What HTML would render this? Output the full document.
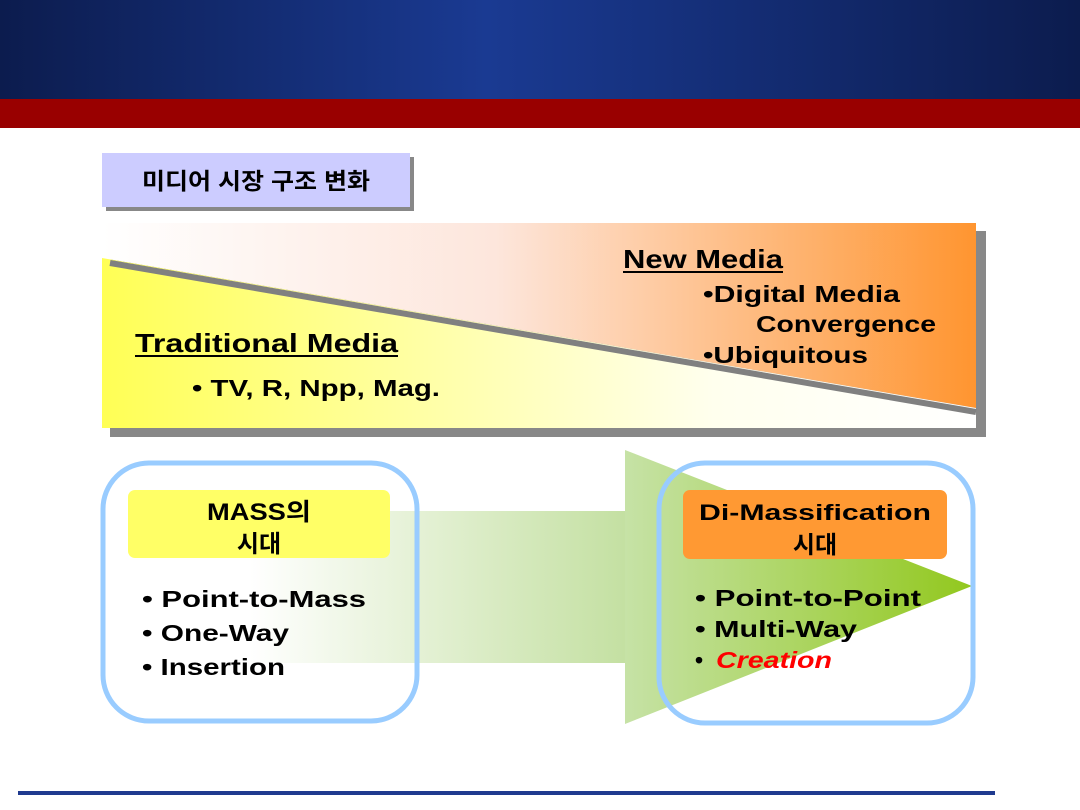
<!DOCTYPE html>
<html><head><meta charset="utf-8"><style>html,body{margin:0;padding:0;background:#fff}svg{display:block}</style></head><body>
<svg width="1080" height="810" viewBox="0 0 1080 810" xmlns="http://www.w3.org/2000/svg" font-family="'Liberation Sans','Noto Sans CJK KR',sans-serif" font-weight="bold">
<defs>
<linearGradient id="hd" x1="0" x2="1" y1="0" y2="0"><stop offset="0" stop-color="#0c1c4e"/><stop offset="0.45" stop-color="#1a3a92"/><stop offset="1" stop-color="#0c1c4e"/></linearGradient>
<linearGradient id="up" x1="0" x2="1"><stop offset="0" stop-color="#ffffff"/><stop offset="0.45" stop-color="#fde6dc"/><stop offset="1" stop-color="#ff9530"/></linearGradient>
<linearGradient id="lo" x1="0" x2="1"><stop offset="0" stop-color="#ffff55"/><stop offset="0.7" stop-color="#ffffee"/><stop offset="1" stop-color="#ffffff"/></linearGradient>
<linearGradient id="ab" x1="250" x2="625" gradientUnits="userSpaceOnUse"><stop offset="0" stop-color="#ffffff"/><stop offset="1" stop-color="#c4e0a2"/></linearGradient>
<linearGradient id="ah" x1="625" x2="972" gradientUnits="userSpaceOnUse"><stop offset="0" stop-color="#c6e2a6"/><stop offset="1" stop-color="#92c81e"/></linearGradient>
</defs>
<rect x="0" y="0" width="1080" height="99" fill="url(#hd)"/>
<rect x="0" y="99" width="1080" height="29" fill="#990000"/>
<rect x="18" y="791" width="977" height="4" fill="#1f3a8f"/>
<rect x="106" y="157" width="308" height="54" fill="#888"/>
<rect x="102" y="153" width="308" height="54" fill="#ccccff"/>
<text x="256" y="189" font-size="23" text-anchor="middle" fill="#000" textLength="228" lengthAdjust="spacingAndGlyphs">미디어 시장 구조 변화</text>
<rect x="110" y="231" width="876" height="206" fill="#888"/>
<polygon points="102,223 976,223 976,408 102,258" fill="url(#up)"/>
<polygon points="102,258 976,408 976,428 102,428" fill="url(#lo)"/>
<line x1="110" y1="263" x2="976" y2="412" stroke="#808080" stroke-width="6"/>
<text x="623" y="268" font-size="26" textLength="160" lengthAdjust="spacingAndGlyphs">New Media</text>
<line x1="623" y1="272" x2="783" y2="272" stroke="#000" stroke-width="2"/>
<text x="703" y="302" font-size="23" textLength="197" lengthAdjust="spacingAndGlyphs">•Digital Media</text>
<text x="756" y="332" font-size="23" textLength="180" lengthAdjust="spacingAndGlyphs">Convergence</text>
<text x="703" y="363" font-size="23" textLength="165" lengthAdjust="spacingAndGlyphs">•Ubiquitous</text>
<text x="135" y="352" font-size="26" textLength="263" lengthAdjust="spacingAndGlyphs">Traditional Media</text>
<line x1="135" y1="356" x2="398" y2="356" stroke="#000" stroke-width="2"/>
<text x="192" y="396" font-size="23" textLength="248" lengthAdjust="spacingAndGlyphs">• TV, R, Npp, Mag.</text>
<rect x="250" y="511" width="376" height="152" fill="url(#ab)"/>
<polygon points="625,450 625,724 972,586" fill="url(#ah)"/>
<rect x="103" y="463" width="314" height="258" rx="46" fill="none" stroke="#99ccff" stroke-width="5"/>
<rect x="659" y="463" width="314" height="260" rx="46" fill="none" stroke="#99ccff" stroke-width="5"/>
<rect x="128" y="490" width="262" height="68" rx="7" fill="#ffff66"/>
<rect x="683" y="490" width="264" height="69" rx="7" fill="#ff9933"/>
<text x="259" y="520" font-size="24" text-anchor="middle" textLength="104" lengthAdjust="spacingAndGlyphs">MASS의</text>
<text x="259" y="552" font-size="24" text-anchor="middle">시대</text>
<text x="815" y="520" font-size="22" text-anchor="middle" textLength="232" lengthAdjust="spacingAndGlyphs">Di-Massification</text>
<text x="815" y="553" font-size="24" text-anchor="middle">시대</text>
<text x="142" y="607" font-size="23" textLength="224" lengthAdjust="spacingAndGlyphs">• Point-to-Mass</text>
<text x="142" y="641" font-size="23" textLength="147" lengthAdjust="spacingAndGlyphs">• One-Way</text>
<text x="142" y="675" font-size="23" textLength="143" lengthAdjust="spacingAndGlyphs">• Insertion</text>
<text x="695" y="606" font-size="23" textLength="226" lengthAdjust="spacingAndGlyphs">• Point-to-Point</text>
<text x="695" y="637" font-size="23" textLength="162" lengthAdjust="spacingAndGlyphs">• Multi-Way</text>
<text x="695" y="668" font-size="23">•</text>
<text x="716" y="668" font-size="23" fill="#ff0000" font-style="italic" textLength="116" lengthAdjust="spacingAndGlyphs">Creation</text>
</svg>
</body></html>
